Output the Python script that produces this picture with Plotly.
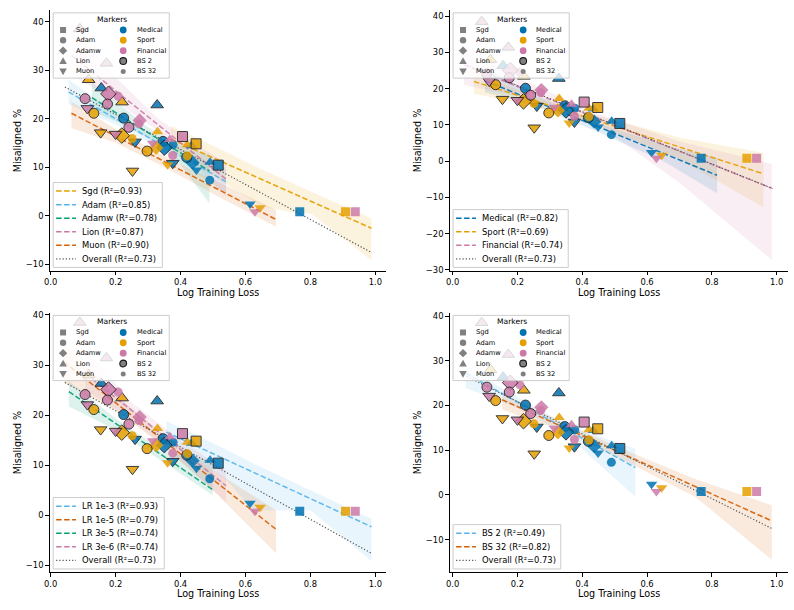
import plotly.graph_objects as go

W, H = 794, 610
FONT = "DejaVu Sans"

# ---------------- data ----------------
med_loss = [0.156, 0.225, 0.328, 0.260, 0.346, 0.434, 0.377, 0.350, 0.419, 0.437, 0.376, 0.491, 0.516, 0.449, 0.490, 0.614, 0.767]
med_mis = [26.3, 20.1, 22.8, 15.2, 15.3, 14.4, 14.6, 14.0, 12.0, 10.9, 10.8, 11.0, 10.4, 9.4, 7.3, 2.4, 0.8]
med_opt = ["Lion", "Adam", "Lion", "Muon", "Adam", "Lion", "Adam", "Adamw", "Adam", "Adamw", "Muon", "Lion", "Sgd", "Muon", "Adam", "Muon", "Sgd"]
med_bs = [2, 2, 2, 2, 2, 32, 32, 2, 2, 32, 2, 32, 2, 32, 32, 32, 32]

spo_loss = [0.117, 0.220, 0.133, 0.329, 0.154, 0.219, 0.251, 0.448, 0.421, 0.325, 0.297, 0.421, 0.360, 0.252, 0.645, 0.908]
spo_mis = [28.0, 23.4, 21.1, 17.3, 17.1, 16.5, 15.9, 14.8, 14.6, 14.0, 13.3, 12.3, 10.5, 9.2, 1.6, 0.8]
spo_opt = ["Lion", "Lion", "Adam", "Lion", "Muon", "Adamw", "Adam", "Sgd", "Lion", "Adamw", "Adam", "Adam", "Muon", "Muon", "Muon", "Sgd"]
spo_bs = [2, 2, 2, 32, 2, 2, 32, 2, 32, 32, 2, 32, 32, 2, 32, 32]

fin_loss = [0.090, 0.172, 0.178, 0.208, 0.106, 0.175, 0.113, 0.274, 0.272, 0.241, 0.200, 0.406, 0.367, 0.314, 0.376, 0.629, 0.938]
fin_mis = [38.5, 31.4, 25.1, 24.6, 24.1, 23.0, 22.1, 19.6, 18.9, 18.2, 16.8, 16.3, 15.7, 14.9, 12.4, 0.8, 0.8]
fin_opt = ["Lion", "Lion", "Adamw", "Adam", "Adam", "Adam", "Muon", "Adamw", "Adam", "Adam", "Muon", "Sgd", "Lion", "Muon", "Adam", "Muon", "Sgd"]
fin_bs = [2, 2, 2, 32, 2, 2, 2, 32, 32, 2, 2, 2, 32, 32, 32, 32, 32]

domain_names = ["Medical", "Sport", "Financial"]
optimizer_names = ["Sgd", "Adam", "Adamw", "Lion", "Muon"]
bs_names = ["BS 2", "BS 32"]

# trend lines (end points) and confidence bands, by grouping
opt_fit_names = ["Sgd", "Adam", "Adamw", "Lion", "Muon"]
opt_fit_r2 = [0.93, 0.85, 0.78, 0.87, 0.90]
opt_fit_x = [[0.37, 0.988], [0.055, 0.54], [0.127, 0.489], [0.065, 0.54], [0.064, 0.694]]
opt_fit_y = [[15.8, -2.6], [25.5, 7.0], [24.3, 9.2], [33.0, 7.5], [21.1, -0.8]]
opt_band_x = [[0.37, 0.45, 0.55, 0.65, 0.75, 0.8, 0.9, 0.988], [0.055, 0.2, 0.3, 0.42, 0.54],
              [0.127, 0.2, 0.3, 0.4, 0.489], [0.065, 0.2, 0.33, 0.45, 0.54], [0.064, 0.2, 0.35, 0.5, 0.694]]
opt_band_hi = [[18.5, 16.0, 12.8, 9.5, 6.5, 5.0, 2.0, -0.6], [28.0, 21.3, 17.2, 13.0, 9.5],
               [27.5, 23.5, 18.2, 14.5, 12.5], [38.5, 28.5, 20.0, 14.5, 11.0], [23.5, 17.8, 12.3, 7.5, 1.2]]
opt_band_lo = [[13.5, 10.5, 6.0, 2.0, 0.6, 0.5, -4.7, -9.2], [23.0, 18.8, 15.2, 10.2, 4.5],
               [21.5, 19.5, 16.0, 10.5, 2.5], [29.0, 23.5, 17.5, 10.0, 4.0], [18.0, 15.0, 10.0, 4.5, -2.3]]

dom_fit_names = ["Medical", "Sport", "Financial"]
dom_fit_r2 = [0.82, 0.69, 0.74]
dom_fit_x = [[0.10, 0.816], [0.066, 0.959], [0.036, 0.985]]
dom_fit_y = [[22.2, -3.9], [22.0, -3.5], [26.5, -7.5]]
dom_band_x = [[0.10, 0.25, 0.45, 0.65, 0.816], [0.066, 0.25, 0.45, 0.7, 0.959], [0.036, 0.2, 0.45, 0.7, 0.985]]
dom_band_hi = [[26.0, 18.5, 10.5, 4.5, 0.9], [24.5, 18.0, 12.5, 6.5, 2.3], [32.0, 23.0, 13.0, 5.5, -0.8]]
dom_band_lo = [[19.0, 15.5, 8.0, 0.0, -8.9], [18.6, 15.3, 9.6, 0.5, -12.7], [21.0, 18.0, 10.0, -6.0, -27.3]]

lr_fit_names = ["LR 1e-3", "LR 1e-5", "LR 3e-5", "LR 3e-6"]
lr_fit_r2 = [0.93, 0.79, 0.74, 0.74]
lr_fit_x = [[0.356, 0.988], [0.041, 0.694], [0.056, 0.499], [0.107, 0.54]]
lr_fit_y = [[16.6, -2.3], [30.6, -2.8], [24.7, 5.1], [28.3, 5.9]]
lr_band_x = [[0.356, 0.45, 0.55, 0.62, 0.8, 0.988], [0.041, 0.2, 0.35, 0.5, 0.694],
             [0.056, 0.2, 0.35, 0.499], [0.107, 0.25, 0.4, 0.54]]
lr_band_hi = [[18.8, 16.0, 12.8, 10.5, 5.0, -0.7], [34.0, 24.0, 16.0, 9.0, 1.0],
              [26.8, 19.3, 12.8, 11.0], [33.0, 22.5, 15.0, 9.0]]
lr_band_lo = [[14.1, 11.5, 6.5, 1.0, 1.0, -9.2], [26.5, 21.0, 13.6, 5.0, -7.6],
              [21.7, 17.0, 10.5, 4.0], [25.0, 19.0, 11.0, 2.6]]

bs_fit_names = ["BS 2", "BS 32"]
bs_fit_r2 = [0.49, 0.82]
bs_fit_x = [[0.041, 0.564], [0.153, 0.985]]
bs_fit_y = [[27.2, 6.1], [21.3, -5.8]]
bs_band_x = [[0.041, 0.2, 0.35, 0.564], [0.153, 0.35, 0.55, 0.75, 0.985]]
bs_band_hi = [[28.5, 22.0, 15.8, 10.3], [22.8, 15.8, 9.5, 3.5, -2.3]]
bs_band_lo = [[23.9, 19.5, 13.5, -0.4], [19.1, 14.0, 7.0, -0.5, -14.5]]

overall_fit_x = [0.044, 0.988]
overall_fit_y = [26.5, -7.6]
overall_r2 = 0.73

x_ticks = [0.0, 0.2, 0.4, 0.6, 0.8, 1.0]

# ---------------- style ----------------
domain_colors = {"Medical": "#0072B2", "Sport": "#E69F00", "Financial": "#CC79A7"}
opt_symbols = {"Sgd": "square", "Adam": "circle", "Adamw": "diamond", "Lion": "triangle-up", "Muon": "triangle-down"}
opt_size_add = {"Sgd": 0, "Adam": 0, "Adamw": 2, "Lion": 1, "Muon": 1}
opt_fit_colors = ["#E69F00", "#56B4E9", "#009E73", "#CC79A7", "#D55E00"]
dom_fit_colors = ["#0072B2", "#E69F00", "#CC79A7"]
lr_fit_colors = ["#56B4E9", "#D55E00", "#009E73", "#CC79A7"]
bs_fit_colors = ["#56B4E9", "#D55E00"]

# panel geometry in pixels (left, right, top, bottom)
AX = [(44, 383, 7.5, 271), (447, 788, 7.5, 271), (44, 383, 313.5, 576), (447, 788, 313.5, 576)]
XR = [[-0.003, 1.033], [-0.009, 1.035], [-0.003, 1.033], [-0.009, 1.035]]
YR = [[-11.4, 42.3], [-30.3, 41.6], [-11.4, 40.4], [-17.3, 40.7]]
LINE_LEG_W = [110, 116, 112, 108.5]

DASH = "5.5px,2.5px"
DOT = "1.2px,2px"


def rgba(hex_c, a):
    h = hex_c.lstrip("#")
    return "rgba(%d,%d,%d,%s)" % (int(h[0:2], 16), int(h[2:4], 16), int(h[4:6], 16), a)


def PX(x):
    return x / W


def PY(y):
    return 1 - y / H


fig = go.Figure()

panels = [
    (opt_fit_names, opt_fit_r2, opt_fit_x, opt_fit_y, opt_band_x, opt_band_lo, opt_band_hi, opt_fit_colors),
    (dom_fit_names, dom_fit_r2, dom_fit_x, dom_fit_y, dom_band_x, dom_band_lo, dom_band_hi, dom_fit_colors),
    (lr_fit_names, lr_fit_r2, lr_fit_x, lr_fit_y, lr_band_x, lr_band_lo, lr_band_hi, lr_fit_colors),
    (bs_fit_names, bs_fit_r2, bs_fit_x, bs_fit_y, bs_band_x, bs_band_lo, bs_band_hi, bs_fit_colors),
]

domain_data = {
    "Medical": (med_loss, med_mis, med_opt, med_bs),
    "Sport": (spo_loss, spo_mis, spo_opt, spo_bs),
    "Financial": (fin_loss, fin_mis, fin_opt, fin_bs),
}

shapes = []
annotations = []
layout_axes = {}

for k, (names, r2s, fxs, fys, bxs, blos, bhis, cols) in enumerate(panels):
    idx = "" if k == 0 else str(k + 1)
    xa, ya = "x" + idx, "y" + idx
    # bands
    for bx, lo, hi, c in zip(bxs, blos, bhis, cols):
        fig.add_trace(go.Scatter(x=bx + bx[::-1], y=hi + lo[::-1], fill="toself", fillcolor=rgba(c, 0.13),
                                 line=dict(width=0), mode="lines", hoverinfo="skip", showlegend=False,
                                 xaxis=xa, yaxis=ya))
    # fitted lines
    for fx, fy, c in zip(fxs, fys, cols):
        fig.add_trace(go.Scatter(x=fx, y=fy, mode="lines", line=dict(color=c, width=1.5, dash=DASH),
                                 opacity=0.9, showlegend=False, hoverinfo="skip", xaxis=xa, yaxis=ya))
    fig.add_trace(go.Scatter(x=overall_fit_x, y=overall_fit_y, mode="lines",
                             line=dict(color="#555555", width=1.2, dash=DOT),
                             showlegend=False, hoverinfo="skip", xaxis=xa, yaxis=ya))
    # scatter points
    for dname in domain_names:
        lx, my, op, bs = domain_data[dname]
        for b in (32, 2):
            sel = [i for i in range(len(lx)) if bs[i] == b]
            if not sel:
                continue
            fig.add_trace(go.Scatter(
                x=[lx[i] for i in sel], y=[my[i] for i in sel], mode="markers",
                marker=dict(symbol=[opt_symbols[op[i]] for i in sel],
                            size=[(10 if b == 2 else 9) + opt_size_add[op[i]] for i in sel],
                            color=domain_colors[dname], opacity=0.85,
                            line=dict(color="#1a1a1a", width=1.0 if b == 2 else 0)),
                showlegend=False, xaxis=xa, yaxis=ya))

    L, R, T, B = AX[k]
    axcommon = dict(showline=True, linecolor="black", linewidth=0.9, ticks="outside", ticklen=3.5,
                    tickwidth=0.9, tickcolor="black", showgrid=False, zeroline=False,
                    tickfont=dict(family=FONT, size=8.4, color="black"))
    layout_axes["xaxis" + idx] = dict(domain=[L / W, R / W], range=XR[k], anchor=ya, tickvals=x_ticks,
                                      tickformat=".1f", **axcommon)
    layout_axes["yaxis" + idx] = dict(domain=[1 - B / H, 1 - T / H], range=YR[k], anchor=xa, dtick=10,
                                      tick0=0, **axcommon)

    # axis titles
    annotations.append(dict(text="Log Training Loss", x=PX((L + R) / 2), y=PY(293.3 if k < 2 else 597),
                            xref="paper", yref="paper", showarrow=False, xanchor="center", yanchor="middle",
                            font=dict(family=FONT, size=9.6, color="black")))
    annotations.append(dict(text="Misaligned %", x=PX(L - 32.3), y=PY((T + B) / 2), xref="paper", yref="paper",
                            showarrow=False, textangle=-90, xanchor="center", yanchor="middle",
                            font=dict(family=FONT, size=9.6, color="black")))

    # ---- marker legend (top-left) ----
    bl, bt = L + 3.5, T + 2.5
    bw, bh = 117, 66
    shapes.append(dict(type="rect", xref="paper", yref="paper", x0=PX(bl), x1=PX(bl + bw), y0=PY(bt + bh),
                       y1=PY(bt), fillcolor="rgba(255,255,255,0.8)", line=dict(color="#cccccc", width=1),
                       layer="above"))
    annotations.append(dict(text="Markers", x=PX(bl + 59), y=PY(bt + 6.7), xref="paper", yref="paper",
                            showarrow=False, xanchor="center", yanchor="middle",
                            font=dict(family=FONT, size=7.6, color="black")))
    row_y = [bt + 17.3, bt + 27.7, bt + 38.2, bt + 48.7, bt + 59.2]
    left_items = optimizer_names
    right_items = domain_names + bs_names
    for i, name in enumerate(left_items):
        cx, cy = bl + 10, row_y[i]
        sym = opt_symbols[name]
        base = dict(xref="paper", yref="paper", xsizemode="pixel", ysizemode="pixel", xanchor=PX(cx),
                    yanchor=PY(cy), fillcolor="#808080", line=dict(color="#808080", width=0), layer="above")
        if sym == "square":
            shapes.append(dict(type="rect", x0=-3, x1=3, y0=-3, y1=3, **base))
        elif sym == "circle":
            shapes.append(dict(type="circle", x0=-3.2, x1=3.2, y0=-3.2, y1=3.2, **base))
        elif sym == "diamond":
            shapes.append(dict(type="path", path="M0,4.2 L4.2,0 L0,-4.2 L-4.2,0 Z", **base))
        elif sym == "triangle-up":
            shapes.append(dict(type="path", path="M-3.8,-3 L3.8,-3 L0,3.8 Z", **base))
        else:
            shapes.append(dict(type="path", path="M-3.8,3 L3.8,3 L0,-3.8 Z", **base))
        annotations.append(dict(text=name, x=PX(bl + 21.5), y=PY(cy), xref="paper", yref="paper",
                                showarrow=False, xanchor="left", yanchor="middle",
                                font=dict(family=FONT, size=6.7, color="black")))
    for i, name in enumerate(right_items):
        cx, cy = bl + 70.6, row_y[i]
        base = dict(type="circle", xref="paper", yref="paper", xsizemode="pixel", ysizemode="pixel",
                    xanchor=PX(cx), yanchor=PY(cy), layer="above")
        if name in domain_colors:
            shapes.append(dict(x0=-3.4, x1=3.4, y0=-3.4, y1=3.4, fillcolor=domain_colors[name],
                               line=dict(color=domain_colors[name], width=0), **base))
        elif name == "BS 2":
            shapes.append(dict(x0=-3.4, x1=3.4, y0=-3.4, y1=3.4, fillcolor="#808080",
                               line=dict(color="#1a1a1a", width=1.1), **base))
        else:
            shapes.append(dict(x0=-2.5, x1=2.5, y0=-2.5, y1=2.5, fillcolor="#808080",
                               line=dict(color="#808080", width=0), **base))
        annotations.append(dict(text=name, x=PX(bl + 82), y=PY(cy), xref="paper", yref="paper",
                                showarrow=False, xanchor="left", yanchor="middle",
                                font=dict(family=FONT, size=6.7, color="black")))

    # ---- line legend (bottom-left) ----
    n = len(names) + 1
    lbl = L + 3.5
    lbb = B - 3.5
    lbh = 8.7 * 2 + (n - 1) * 13.7
    lbt = lbb - lbh
    shapes.append(dict(type="rect", xref="paper", yref="paper", x0=PX(lbl), x1=PX(lbl + LINE_LEG_W[k]),
                       y0=PY(lbb), y1=PY(lbt), fillcolor="rgba(255,255,255,0.8)",
                       line=dict(color="#cccccc", width=1), layer="above"))
    entries = [(nm, r2, c, DASH, 1.5) for nm, r2, c in zip(names, r2s, cols)]
    entries.append(("Overall", overall_r2, "#555555", DOT, 1.2))
    for i, (nm, r2, c, dsh, wd) in enumerate(entries):
        yy = lbt + 8.7 + i * 13.7
        shapes.append(dict(type="line", xref="paper", yref="paper", x0=PX(lbl + 3), x1=PX(lbl + 23),
                           y0=PY(yy), y1=PY(yy), line=dict(color=c, width=wd, dash=dsh), layer="above"))
        annotations.append(dict(text="%s (R\u00b2=%.2f)" % (nm, r2), x=PX(lbl + 27.5), y=PY(yy),
                                xref="paper", yref="paper", showarrow=False, xanchor="left",
                                yanchor="middle", font=dict(family=FONT, size=8.4, color="black")))

fig.update_layout(width=W, height=H, margin=dict(l=0, r=0, t=0, b=0), plot_bgcolor="white",
                  paper_bgcolor="white", showlegend=False, shapes=shapes, annotations=annotations,
                  font=dict(family=FONT, color="black"), **layout_axes)

fig.write_html("out.html")
